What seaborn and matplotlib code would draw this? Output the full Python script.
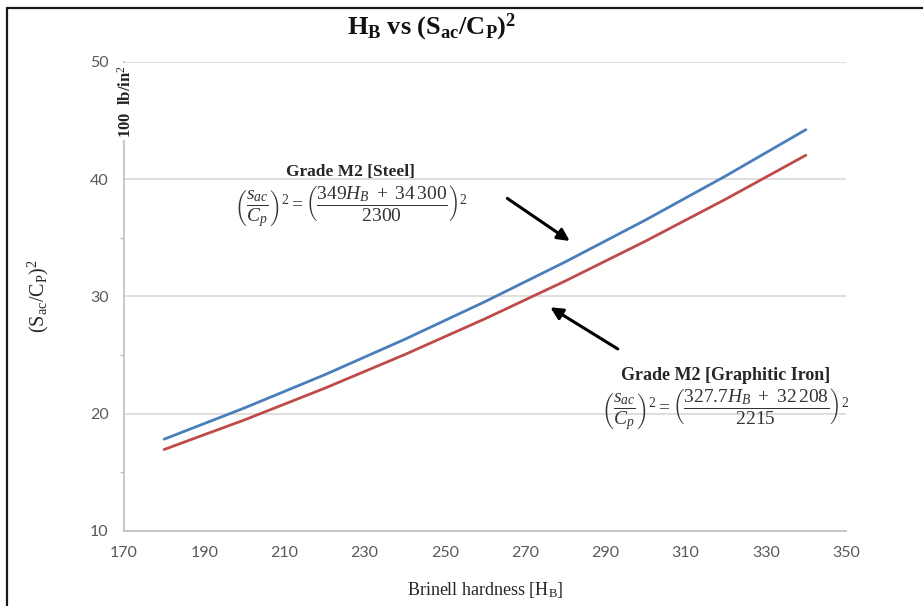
import numpy as np
import pandas as pd
import matplotlib
matplotlib.use("Agg")
import matplotlib.pyplot as plt
from matplotlib.lines import Line2D
from matplotlib.ticker import MultipleLocator
import seaborn as sns

# ---------- Data ----------
hardness = [180, 200, 220, 240, 260, 280, 300, 320, 340]
steel_vals = [17.83, 20.49, 23.32, 26.35, 29.56, 32.95, 36.52, 40.28, 44.23]
iron_vals = [16.95, 19.47, 22.17, 25.05, 28.10, 31.32, 34.72, 38.30, 42.05]
series_names = ["Grade M2 [Steel]", "Grade M2 [Graphitic Iron]"]
x_ticks = list(range(170, 351, 20))
y_ticks = [10, 20, 30, 40, 50]

df = pd.DataFrame({
    "hb": hardness * 2,
    "val": steel_vals + iron_vals,
    "grade": [series_names[0]] * len(hardness) + [series_names[1]] * len(hardness),
})

# ---------- Style ----------
sns.set_theme(style="white")
plt.rcParams["font.family"] = ["Liberation Serif", "DejaVu Sans"]
plt.rcParams["mathtext.fontset"] = "custom"
plt.rcParams["mathtext.rm"] = "Liberation Serif"
plt.rcParams["mathtext.it"] = "Liberation Serif:italic"
plt.rcParams["mathtext.bf"] = "Liberation Serif:bold"

GRAY_TXT = "#595959"
AX_GRAY = "#bfbfbf"
palette = {series_names[0]: "#4a7ebb", series_names[1]: "#be4b48"}

fig = plt.figure(figsize=(9.23, 6.06), dpi=100)
ax = fig.add_axes([124 / 923, 1 - 531 / 606, 722 / 923, 469 / 606])

sns.lineplot(data=df, x="hb", y="val", hue="grade", palette=palette,
             linewidth=2.0, legend=False, ax=ax)

ax.set_xlim(170, 350)
ax.set_ylim(10, 50)
ax.set_xticks(x_ticks)
ax.set_yticks(y_ticks)
ax.yaxis.set_minor_locator(MultipleLocator(5))
ax.yaxis.grid(True, color="#d9d9d9", linewidth=1.2)
ax.set_axisbelow(True)

for side in ["top", "right"]:
    ax.spines[side].set_visible(False)
for side in ["left", "bottom"]:
    ax.spines[side].set_color(AX_GRAY)
    ax.spines[side].set_linewidth(1.2)

ax.tick_params(axis="both", which="both", direction="out", color=AX_GRAY,
               width=1.0, labelcolor=GRAY_TXT, labelsize=11.5)
ax.tick_params(axis="both", which="major", length=5, pad=6)
ax.tick_params(axis="y", which="minor", length=3, left=True)
for lab in ax.get_xticklabels() + ax.get_yticklabels():
    lab.set_fontfamily(["Lato", "DejaVu Sans"])

ax.set_xlabel(r"Brinell hardness [H$_\mathrm{B}$]", fontsize=13, color="#262626", labelpad=14)
ax.set_ylabel(r"(S$_\mathrm{ac}$/C$_\mathrm{P}$)$^2$", fontsize=14.5, color="#262626", labelpad=28)

fig.text(432 / 923, 1 - 34 / 606, r"$\mathbf{H_B\ vs\ (S_{ac}/C_P)^2}$", ha="center", va="baseline",
         fontsize=19, color="#111111")

# unit label sitting over the top of the y axis
ax.text(0.002, 0.915, "100  lb/in$^2$", transform=ax.transAxes, rotation=90,
        ha="center", va="center", fontsize=12, fontweight="bold", color="#222222",
        bbox=dict(facecolor="white", edgecolor="none", pad=1.5))

# annotations
ax.text(226.5, 40.6, "Grade M2 [Steel]", ha="center", va="center", fontsize=12.5,
        fontweight="bold", color="#262626")
ax.text(226.5, 37.7, r"$\left(\dfrac{s_{ac}}{C_p}\right)^2 = \left(\dfrac{349H_B\ +\ 34\,300}{2300}\right)^2$",
        ha="center", va="center", fontsize=14, color="#333333")
ax.annotate("", xy=(281.7, 34.6), xytext=(265, 38.5),
            arrowprops=dict(arrowstyle="-|>", color="black", lw=2.2, mutation_scale=18))

ax.text(320, 23.3, "Grade M2 [Graphitic Iron]", ha="center", va="center", fontsize=13,
        fontweight="bold", color="#262626")
ax.text(320, 20.4, r"$\left(\dfrac{s_{ac}}{C_p}\right)^2 = \left(\dfrac{327.7H_B\ +\ 32\,208}{2215}\right)^2$",
        ha="center", va="center", fontsize=14, color="#333333")
ax.annotate("", xy=(275.7, 29.2), xytext=(293.7, 25.4),
            arrowprops=dict(arrowstyle="-|>", color="black", lw=2.2, mutation_scale=18))

# picture frame (top and left edges)
fig.add_artist(Line2D([7 / 923, 7 / 923], [0, 1 - 8 / 606], color="#1a1a1a", lw=1.6))
fig.add_artist(Line2D([7 / 923, 1], [1 - 8 / 606, 1 - 8 / 606], color="#1a1a1a", lw=1.6))

fig.savefig("out.png", dpi=100)
